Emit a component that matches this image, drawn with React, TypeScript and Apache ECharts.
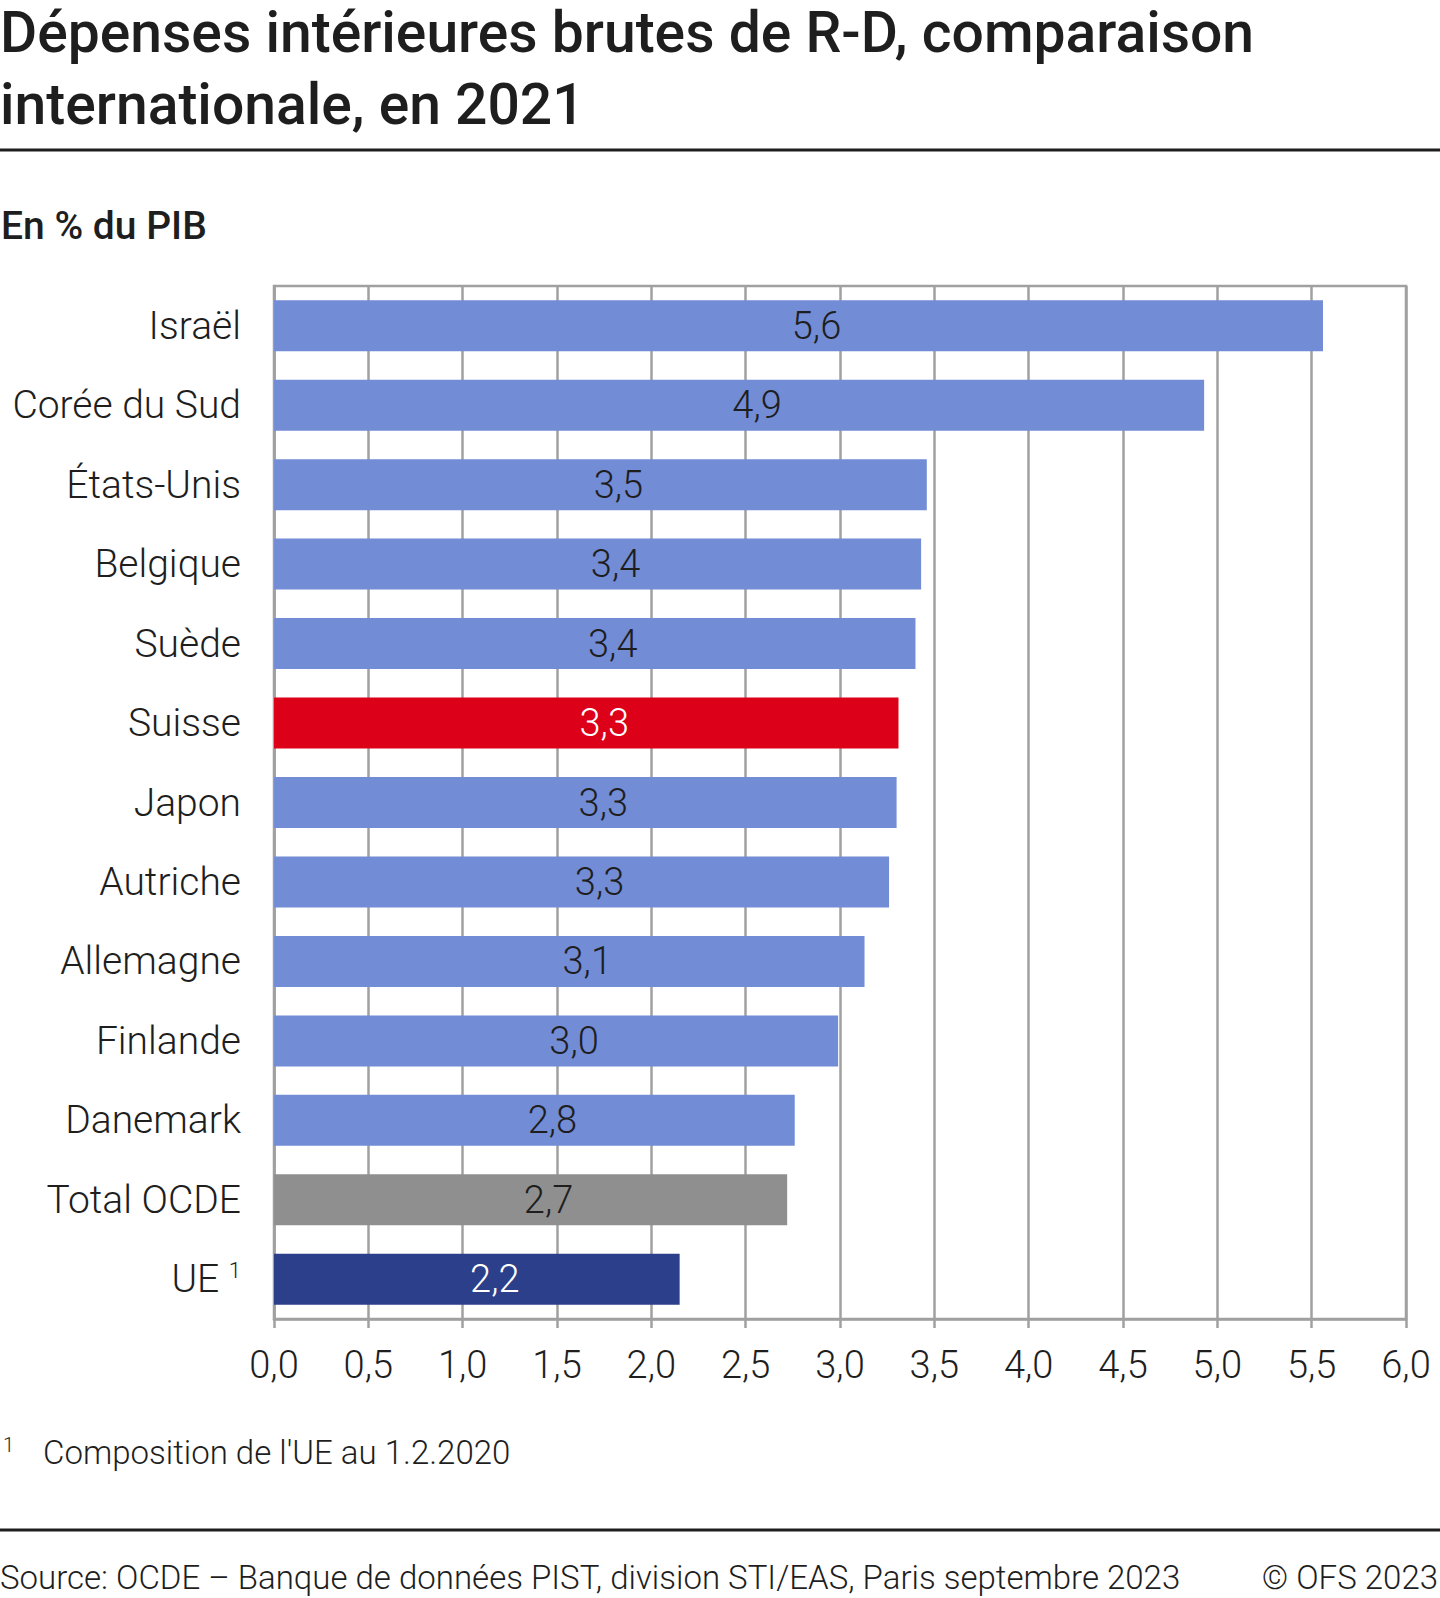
import React, { useEffect, useRef } from "react";
import * as echarts from "echarts";

const categories = [
  "Israël",
  "Corée du Sud",
  "États-Unis",
  "Belgique",
  "Suède",
  "Suisse",
  "Japon",
  "Autriche",
  "Allemagne",
  "Finlande",
  "Danemark",
  "Total OCDE",
  "UE",
];
const values = [5.56, 4.93, 3.46, 3.43, 3.4, 3.31, 3.3, 3.26, 3.13, 2.99, 2.76, 2.72, 2.15];
const valueLabels = ["5,6", "4,9", "3,5", "3,4", "3,4", "3,3", "3,3", "3,3", "3,1", "3,0", "2,8", "2,7", "2,2"];
const xTicks = ["0,0", "0,5", "1,0", "1,5", "2,0", "2,5", "3,0", "3,5", "4,0", "4,5", "5,0", "5,5", "6,0"];

const TITLE_1 = "Dépenses intérieures brutes de R-D, comparaison";
const TITLE_2 = "internationale, en 2021";
const SUBTITLE = "En % du PIB";
const FOOTNOTE = "Composition de l'UE au 1.2.2020";
const SOURCE = "Source: OCDE – Banque de données PIST, division STI/EAS, Paris septembre 2023";
const COPYRIGHT = "© OFS 2023";

const C_BLUE = "#728cd6";
const C_CH = "#dc0018";
const C_OECD = "#8f8f8f";
const C_EU = "#2b3f8b";
const GRID = "#a0a0a0";
const TXT = "#1e1e1e";
const FONT = "Roboto";

function colorFor(cat: string) {
  if (cat === "Suisse") return C_CH;
  if (cat === "Total OCDE") return C_OECD;
  if (cat === "UE") return C_EU;
  return C_BLUE;
}
function labelColorFor(cat: string) {
  return cat === "Suisse" || cat === "UE" ? "#ffffff" : TXT;
}

export default function App() {
  const ref = useRef<HTMLDivElement>(null);
  useEffect(() => {
    if (!ref.current) return;
    const chart = echarts.init(ref.current, undefined, { renderer: "svg" });
    chart.setOption({
      animation: false,
      backgroundColor: "#ffffff",
      grid: {
        left: 274,
        right: 34,
        top: 286,
        bottom: 279,
        show: true,
        borderColor: GRID,
        borderWidth: 2.5,
        backgroundColor: "transparent",
      },
      xAxis: {
        type: "value",
        min: 0,
        max: 6,
        interval: 0.5,
        axisLine: { show: true, lineStyle: { color: GRID, width: 2.5 } },
        axisTick: { show: true, length: 9, lineStyle: { color: GRID, width: 2.5 } },
        splitLine: { show: true, lineStyle: { color: GRID, width: 2.5 } },
        axisLabel: {
          margin: 27,
          fontFamily: FONT,
          fontWeight: 300,
          fontSize: 38,
          color: TXT,
          formatter: (v: number) => xTicks[Math.round(v / 0.5)] ?? "",
        },
      },
      yAxis: {
        type: "category",
        inverse: true,
        data: categories,
        axisLine: { show: true, lineStyle: { color: GRID, width: 2.5 } },
        axisTick: { show: false },
        axisLabel: {
          margin: 33,
          fontFamily: FONT,
          fontWeight: 300,
          fontSize: 39,
          color: TXT,
          formatter: (v: string) => (v === "UE" ? "UE {sup|1}" : v),
          rich: {
            sup: { fontSize: 22, fontFamily: FONT, fontWeight: 300, color: TXT, padding: [0, 0, 18, 0] },
          },
        },
      },
      series: [
        {
          type: "bar",
          barWidth: 51,
          data: categories.map((c, i) => ({
            value: values[i],
            itemStyle: { color: colorFor(c) },
            label: { color: labelColorFor(c) },
          })),
          label: {
            show: true,
            position: "inside",
            offset: [18, 0],
            fontFamily: FONT,
            fontWeight: 300,
            fontSize: 38,
            formatter: (p: any) => valueLabels[p.dataIndex],
          },
        },
      ],
      graphic: [
        { type: "text", x: 0, y: 32, style: { text: TITLE_1, font: `500 57px ${FONT}`, fill: TXT, verticalAlign: "middle" } },
        { type: "text", x: 0, y: 104, style: { text: TITLE_2, font: `500 57px ${FONT}`, fill: TXT, verticalAlign: "middle" } },
        { type: "line", shape: { x1: 0, y1: 150, x2: 1440, y2: 150 }, style: { stroke: TXT, lineWidth: 3 } },
        { type: "text", x: 1, y: 226, style: { text: SUBTITLE, font: `500 39px ${FONT}`, fill: TXT, verticalAlign: "middle" } },
        { type: "text", x: 3, y: 1445, style: { text: "1", font: `300 20px ${FONT}`, fill: TXT, verticalAlign: "middle" } },
        { type: "text", x: 43, y: 1452, style: { text: FOOTNOTE, font: `300 33px ${FONT}`, fill: TXT, verticalAlign: "middle" } },
        { type: "line", shape: { x1: 0, y1: 1530, x2: 1440, y2: 1530 }, style: { stroke: TXT, lineWidth: 3 } },
        { type: "text", x: 0, y: 1577, style: { text: SOURCE, font: `300 33px ${FONT}`, fill: TXT, verticalAlign: "middle" } },
        { type: "text", x: 1438, y: 1577, style: { text: COPYRIGHT, font: `300 33px ${FONT}`, fill: TXT, verticalAlign: "middle", align: "right" } },
      ],
    });
    return () => chart.dispose();
  }, []);
  return <div ref={ref} style={{ position: "absolute", left: 0, top: 0, width: 1440, height: 1598 }} />;
}
